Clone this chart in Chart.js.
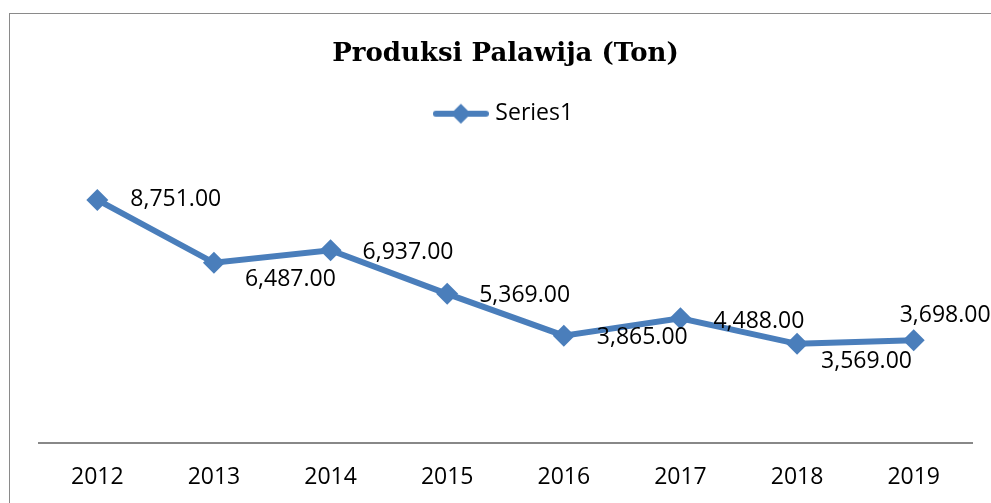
<!DOCTYPE html>
<html>
<head>
<meta charset="utf-8">
<script src="https://cdn.jsdelivr.net/npm/chart.js@4"></script>
<style>
    html, body { margin: 0; padding: 0; background: #fff; overflow: hidden; }
    #frame { position: absolute; left: 9px; top: 13px; width: 1100px; height: 600px; border: 1px solid #8a8a8a; }
    #chart { position: absolute; left: 0; top: 0; }
</style>
</head>
<body>
<div id="frame"></div>
<canvas id="chart" width="991" height="503"></canvas>
<script>
const years = ["2012", "2013", "2014", "2015", "2016", "2017", "2018", "2019"];
const produksi = [8751, 6487, 6937, 5369, 3865, 4488, 3569, 3698];
const yMin = 0;
const yMax = 10000;

// where each value label sits, relative to its point (left edge, middle)
const labelShift = [[33, 0], [31, 17], [32, 2], [32, 2], [33, 2], [33, 3], [24, 18], [-14, -25]];

const lineColor = "#4a7ebb";
const labelFont = "23px 'Open Sans'";

// legend marker: a short line with a diamond on it
const marker = document.createElement("canvas");
marker.width = 56;
marker.height = 22;
(function () {
    const c = marker.getContext("2d");
    c.strokeStyle = lineColor;
    c.fillStyle = lineColor;
    c.lineWidth = 6;
    c.lineCap = "round";
    c.beginPath();
    c.moveTo(3, 11);
    c.lineTo(53, 11);
    c.stroke();
    c.beginPath();
    c.moveTo(28, 1);
    c.lineTo(38, 11);
    c.lineTo(28, 21);
    c.lineTo(18, 11);
    c.closePath();
    c.fill();
})();

const valueLabels = {
    id: "valueLabels",
    afterDatasetsDraw(chart) {
        const ctx = chart.ctx;
        const meta = chart.getDatasetMeta(0);
        ctx.save();
        ctx.font = labelFont;
        ctx.fillStyle = "#000";
        ctx.textAlign = "left";
        ctx.textBaseline = "middle";
        meta.data.forEach((pt, i) => {
            const v = chart.data.datasets[0].data[i];
            const txt = v.toLocaleString("en-US", { minimumFractionDigits: 2, maximumFractionDigits: 2 });
            ctx.fillText(txt, pt.x + labelShift[i][0], pt.y + labelShift[i][1]);
        });
        ctx.restore();
    },
};

const ctx = document.getElementById("chart");

new Chart(ctx, {
    type: "line",
    data: {
        labels: years,
        datasets: [
            {
                label: "Series1",
                data: produksi,
                borderColor: lineColor,
                backgroundColor: lineColor,
                borderWidth: 6,
                pointStyle: "rectRot",
                pointRadius: 11,
                pointBorderWidth: 0,
                pointBackgroundColor: lineColor,
                tension: 0,
                clip: false,
            },
        ],
    },
    options: {
        responsive: false,
        animation: false,
        devicePixelRatio: 1,
        layout: {
            padding: { left: 39, right: 19, top: 0, bottom: 0 },
        },
        scales: {
            x: {
                offset: true,
                grid: { display: false, drawTicks: false },
                border: { display: true, color: "#888", width: 2 },
                ticks: {
                    color: "#000",
                    padding: 21,
                    font: { family: "'Open Sans'", size: 23 },
                },
                afterFit(scale) {
                    scale.height = 60;
                },
            },
            y: {
                display: false,
                min: yMin,
                max: yMax,
            },
        },
        plugins: {
            title: {
                display: true,
                text: "Produksi Palawija (Ton)",
                color: "#000",
                font: { family: "'DejaVu Serif'", size: 26, weight: "bold", lineHeight: 1.2 },
                padding: { top: 39, bottom: 22 },
            },
            legend: {
                display: true,
                labels: {
                    usePointStyle: true,
                    pointStyle: marker,
                    pointStyleWidth: 46,
                    padding: 10,
                    color: "#000",
                    font: { family: "'Open Sans'", size: 23 },
                },
            },
            // empty subtitle used only as a gap between legend and plot
            subtitle: {
                display: true,
                text: "",
                weight: 500,
                font: { size: 10, lineHeight: 1 },
                padding: { top: 0, bottom: 20 },
            },
            tooltip: { enabled: false },
        },
    },
    plugins: [valueLabels],
});
</script>
</body>
</html>
